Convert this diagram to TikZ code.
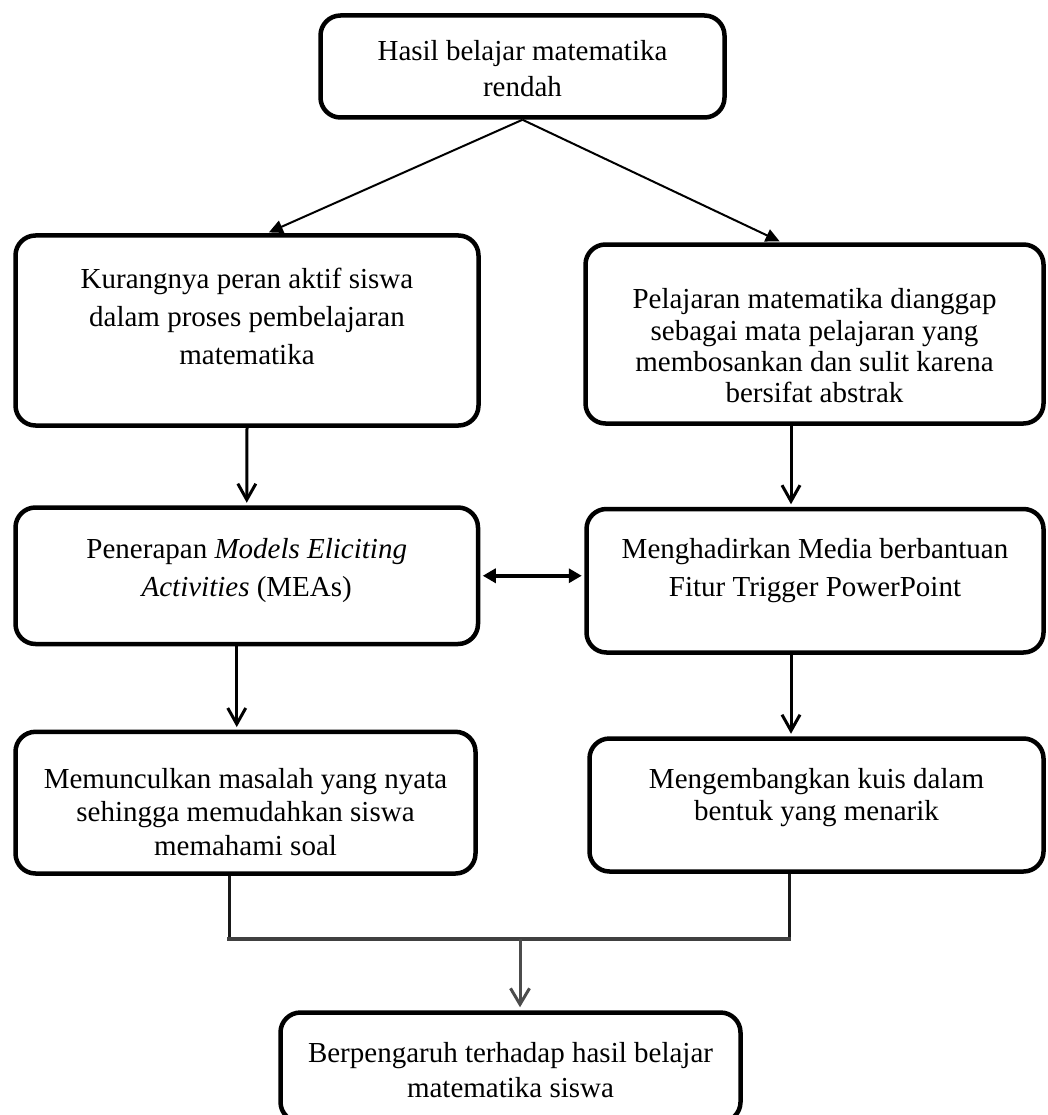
\documentclass[tikz,border=0pt]{standalone}
\usepackage{fontspec}
\setmainfont{Liberation Serif}
\usetikzlibrary{arrows.meta,calc,positioning}

% isi kotak: lebar, tinggi, jarak atas, jarak baris, teks
\newcommand{\isikotak}[5]{\parbox[c][#2pt][t]{#1pt}{\fontsize{29pt}{#4pt}\selectfont\centering\vspace*{#3pt}#5}}

\begin{document}
\begin{tikzpicture}[x=1pt,y=-1pt,
  kotak/.style={draw,line width=4.5pt,rounded corners=20pt,inner sep=0pt},
  panahmiring/.style={line width=2pt,-{Triangle[length=14pt,width=13pt]},shorten >=2pt},
  panahturun/.style={line width=3pt,-{Straight Barb[length=16pt,width=18pt]},shorten >=2.5pt},
  panahdua/.style={line width=4pt,{Triangle[length=13pt,width=14pt]}-{Triangle[length=13pt,width=14pt]},shorten <=2.5pt,shorten >=2.5pt},
  garis/.style={line width=3pt,black!90},
  garisabu/.style={line width=3.5pt,black!75,line cap=rect},
  panahabu/.style={line width=3pt,black!70,-{Straight Barb[length=16pt,width=19pt]},shorten >=3pt}]

\useasboundingbox (0,0) rectangle (1048,1115);

\node[kotak] (hasil) at (522.5,66.5) {\isikotak{404}{102}{24.5}{36}{Hasil belajar matematika\\ rendah}};

\node[kotak] (kurang) at (247,330.5) {\isikotak{463}{190}{33}{38}{Kurangnya peran aktif siswa\\ dalam proses pembelajaran\\ matematika}};
\node[kotak] (pelajaran) at (814.5,334) {\isikotak{458}{179}{44}{31.4}{Pelajaran matematika dianggap\\ sebagai mata pelajaran yang\\ membosankan dan sulit karena\\ bersifat abstrak}};

\node[kotak] (penerapan) at (246.75,575.75) {\isikotak{462.5}{136.5}{31}{37.7}{Penerapan \textit{Models Eliciting}\\ \textit{Activities} (MEAs)}};
\node[kotak] (menghadirkan) at (815,580.75) {\isikotak{457}{143.5}{29.5}{38.3}{Menghadirkan Media berbantuan\\ Fitur Trigger PowerPoint}};

\node[kotak] (memunculkan) at (245.5,802.65) {\isikotak{460}{141.7}{36.7}{33.3}{Memunculkan masalah yang nyata\\ sehingga memudahkan siswa\\ memahami soal}};
\node[kotak] (mengembangkan) at (816.5,805) {\isikotak{454}{133}{30}{32}{Mengembangkan kuis dalam\\ bentuk yang menarik}};

\node[kotak] (berpengaruh) at (510.5,1067.25) {\isikotak{460}{109.5}{29.4}{35}{Berpengaruh terhadap hasil belajar\\ matematika siswa}};

\coordinate (sudutkiri) at (229,939);
\coordinate (sudutkanan) at (789,939);
\coordinate (tengah) at (520,939);

\draw[panahmiring] (hasil.south) -- ([xshift=20pt]kurang.north);
\draw[panahmiring] (hasil.south) -- ([xshift=-33pt]pelajaran.north);

\draw[panahturun] (kurang.south) -- (penerapan.north);
\draw[panahturun] ([xshift=-23.5pt]pelajaran.south) -- ([xshift=-23.5pt]pelajaran.south |- menghadirkan.north);
\draw[panahdua] (penerapan.east) -- (penerapan.east -| menghadirkan.west);
\draw[panahturun] ([xshift=-10pt]penerapan.south) -- ([xshift=-10pt]penerapan.south |- memunculkan.north);
\draw[panahturun] ([xshift=-24pt]menghadirkan.south) -- ([xshift=-24pt]menghadirkan.south |- mengembangkan.north);

\draw[garis] (memunculkan.south -| sudutkiri) -- (sudutkiri);
\draw[garis] (mengembangkan.south -| sudutkanan) -- (sudutkanan);
\draw[garisabu] (sudutkiri) -- (sudutkanan);
\draw[panahabu] (tengah) -- (tengah |- berpengaruh.north);

\end{tikzpicture}
\end{document}
